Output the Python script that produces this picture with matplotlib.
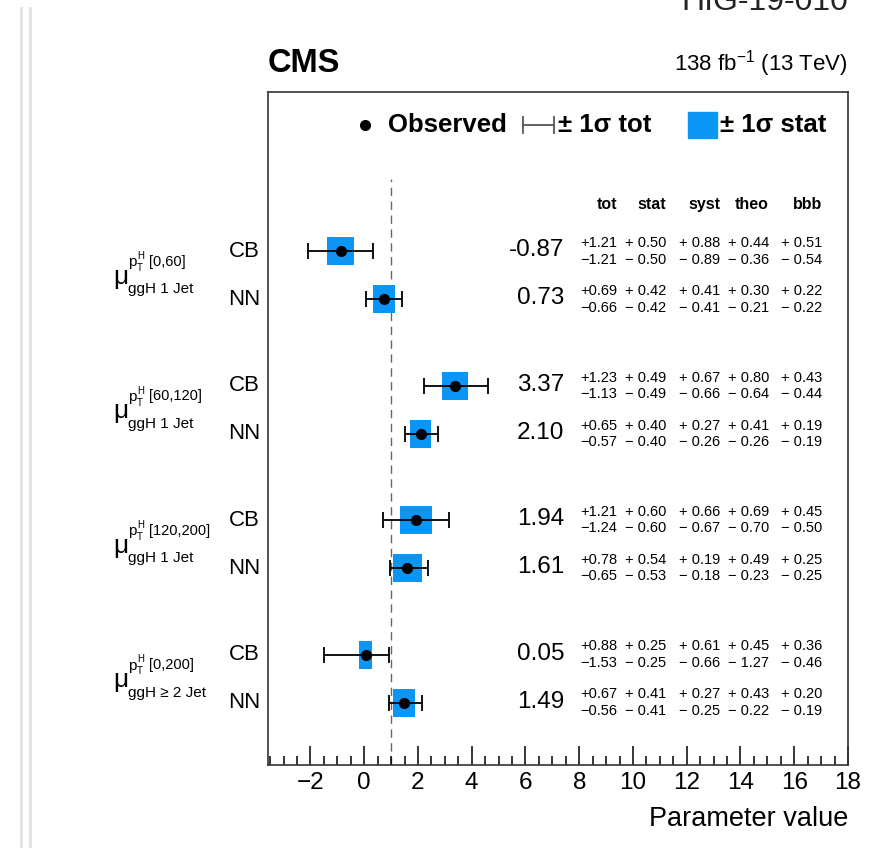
import matplotlib
matplotlib.use("Agg")
import matplotlib.pyplot as plt
import matplotlib.transforms as mtransforms
from matplotlib.lines import Line2D
from matplotlib.patches import Rectangle

plt.rcParams['font.family'] = ['Liberation Sans', 'DejaVu Sans']
plt.rcParams['mathtext.fontset'] = 'custom'
plt.rcParams['mathtext.rm'] = 'Liberation Sans'
plt.rcParams['mathtext.it'] = 'Liberation Sans:italic'

# signal strength fits, CB vs NN, per pT bin
bins = ["[0,60]", "[60,120]", "[120,200]", "[0,200]"]
jets = ["ggH 1 Jet", "ggH 1 Jet", "ggH 1 Jet", "ggH \u2265 2 Jet"]
methods = ["CB", "NN"]

central = [-0.87, 0.73, 3.37, 2.10, 1.94, 1.61, 0.05, 1.49]
tot_up = [1.21, 0.69, 1.23, 0.65, 1.21, 0.78, 0.88, 0.67]
tot_dn = [1.21, 0.66, 1.13, 0.57, 1.24, 0.65, 1.53, 0.56]
stat_up = [0.50, 0.42, 0.49, 0.40, 0.60, 0.54, 0.25, 0.41]
stat_dn = [0.50, 0.42, 0.49, 0.40, 0.60, 0.53, 0.25, 0.41]
syst_up = [0.88, 0.41, 0.67, 0.27, 0.66, 0.19, 0.61, 0.27]
syst_dn = [0.89, 0.41, 0.66, 0.26, 0.67, 0.18, 0.66, 0.25]
theo_up = [0.44, 0.30, 0.80, 0.41, 0.69, 0.49, 0.45, 0.43]
theo_dn = [0.36, 0.21, 0.64, 0.26, 0.70, 0.23, 1.27, 0.22]
bbb_up = [0.51, 0.22, 0.43, 0.19, 0.45, 0.25, 0.36, 0.20]
bbb_dn = [0.54, 0.22, 0.44, 0.19, 0.50, 0.25, 0.46, 0.19]

columns = ["tot", "stat", "syst", "theo", "bbb"]
col_up = [tot_up, stat_up, syst_up, theo_up, bbb_up]
col_dn = [tot_dn, stat_dn, syst_dn, theo_dn, bbb_dn]

W, H = 889, 848
fig = plt.figure(figsize=(W / 100, H / 100), dpi=100)
ax = fig.add_axes([268 / W, 1 - 765 / H, 580 / W, 673 / H])


def px(x, y):
    return x / W, 1 - y / H


blue = '#0b96f5'
col_x = [617, 666, 720, 769, 822]

# row positions: groups from top to bottom, CB above NN
ypos = []
for g in range(len(bins)):
    nn = 1.3 + 2.8 * (len(bins) - 1 - g)
    ypos += [nn + 1.0, nn]

widths = [u + d for u, d in zip(stat_up, stat_dn)]
lefts = [c - d for c, d in zip(central, stat_dn)]
ax.barh(ypos, widths, left=lefts, height=0.58, color=blue, zorder=2)
ax.errorbar(central, ypos, xerr=[tot_dn, tot_up], fmt='o', color='black',
            ms=7, elinewidth=1.3, capsize=6, capthick=1.3, zorder=3)
ax.plot([1, 1], [0, 12.2], color='#666666', lw=1, dashes=(6, 4), zorder=1)

ax.set_xlim(-3.58, 18)
ax.set_ylim(0, 14.02)
ax.set_yticks([])
ax.set_xticks(range(-2, 19, 2))
ax.set_xticklabels(["\u22122" if t < 0 else str(t) for t in range(-2, 19, 2)])
ax.set_xticks([x * 0.5 for x in range(-7, 36)], minor=True)
ax.tick_params(axis='x', which='major', direction='in', length=14, width=1.1,
               labelsize=17.5, pad=5, top=False)
ax.tick_params(axis='x', which='minor', direction='in', length=6.5, width=1.1,
               top=False)
for s in ax.spines.values():
    s.set_linewidth(1.2)
    s.set_color('#333333')
ax.set_xlabel("Parameter value", fontsize=19.5, loc='right', labelpad=9)

tr = mtransforms.blended_transform_factory(fig.transFigure, ax.transData)

# table header
for name, xr in zip(columns, col_x):
    fig.text(xr / W, 11.67, name, transform=tr, ha='right', va='center',
             fontsize=11.5, fontweight='bold')

for i, y in enumerate(ypos):
    fig.text(260 / W, y, methods[i % 2], transform=tr, ha='right',
             va='center', fontsize=16)
    fig.text(564 / W, y + 0.02, "%.2f" % central[i], transform=tr,
             ha='right', va='center', fontsize=17.5)
    for k, xr in enumerate(col_x):
        gap = "" if k == 0 else " "
        fig.text(xr / W, y + 0.17, "+" + gap + "%.2f" % col_up[k][i],
                 transform=tr, ha='right', va='center', fontsize=10.5)
        fig.text(xr / W, y - 0.17, "\u2212" + gap + "%.2f" % col_dn[k][i],
                 transform=tr, ha='right', va='center', fontsize=10.5)

# parameter names
for g in range(len(bins)):
    yc = ypos[2 * g] - 0.5
    fig.text(113 / W, yc - 0.03, "\u03bc", transform=tr, ha='left',
             va='center', fontsize=19)
    fig.text(128 / W, yc + 0.27, "p", transform=tr, ha='left', va='center',
             fontsize=11)
    fig.text(137 / W, yc + 0.40, "H", transform=tr, ha='left', va='center',
             fontsize=7)
    fig.text(137 / W, yc + 0.15, "T", transform=tr, ha='left', va='center',
             fontsize=7)
    fig.text(149 / W, yc + 0.28, bins[g], transform=tr, ha='left',
             va='center', fontsize=10.5)
    fig.text(128 / W, yc - 0.29, jets[g], transform=tr, ha='left',
             va='center', fontsize=11)

# legend
fig.add_artist(Line2D([365 / W], [1 - 125 / H], marker='o', ms=7,
                      color='black', transform=fig.transFigure))
fig.text(*px(388, 125), "Observed", ha='left', va='center', fontsize=18.5,
         fontweight='bold')
ek = dict(color='#555555', lw=1.3, transform=fig.transFigure)
fig.add_artist(Line2D([523 / W, 554 / W], [1 - 125 / H] * 2, **ek))
fig.add_artist(Line2D([523 / W] * 2, [1 - 117 / H, 1 - 133 / H], **ek))
fig.add_artist(Line2D([554 / W] * 2, [1 - 117 / H, 1 - 133 / H], **ek))
fig.text(*px(558, 125), "\u00b1 1\u03c3 tot", ha='left', va='center',
         fontsize=18.5, fontweight='bold')
fig.add_artist(Rectangle(px(688, 138), 29 / W, 26 / H, color=blue,
                         transform=fig.transFigure))
fig.text(*px(720, 125), "\u00b1 1\u03c3 stat", ha='left', va='center',
         fontsize=18.5, fontweight='bold')

# header labels
fig.text(*px(268, 64), "CMS", ha='left', va='center', fontsize=23.5,
         fontweight='bold')
fig.text(*px(848, 64), "138 fb$^{-1}$ (13 TeV)", ha='right', va='center',
         fontsize=16)
fig.text(*px(848, 10), "HIG-19-010", ha='right', va='baseline', fontsize=23,
         color='#222222')

# page margin lines
for x in (21, 30):
    fig.add_artist(Line2D([x / W] * 2, [0, 1 - 8 / H], color='#e2e2e2',
                          lw=2, transform=fig.transFigure))

fig.savefig("out.png", dpi=100)
